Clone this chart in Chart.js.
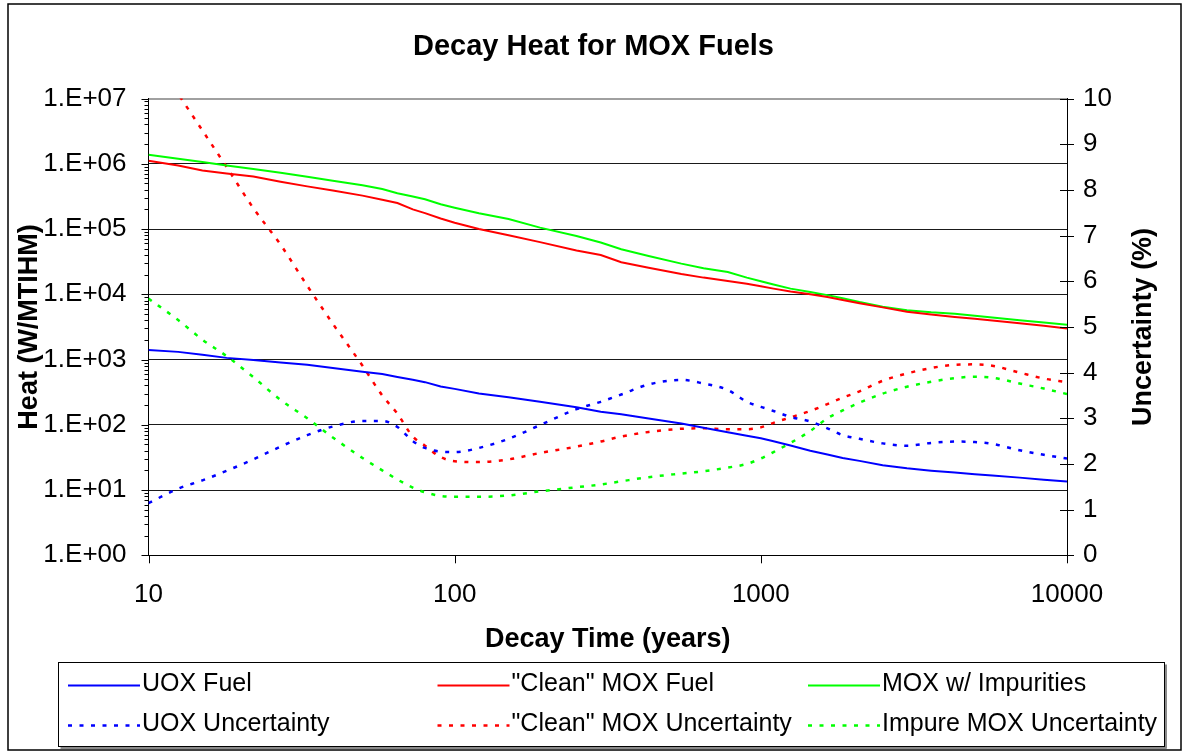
<!DOCTYPE html>
<html>
<head>
<meta charset="utf-8">
<script src="https://cdn.jsdelivr.net/npm/chart.js@4.4.1/dist/chart.umd.min.js"></script>
<style>
html,body{margin:0;padding:0;background:#fff;}
canvas{display:block;}
</style>
</head>
<body>
<canvas id="c" width="1187" height="753"></canvas>
<script>
// ---- Data ----
const times = [10, 12.5, 15, 18, 22, 27, 33, 40, 50, 58, 65, 73, 80, 90, 100, 120, 150, 190, 250, 300, 350, 430, 550, 650, 780, 900, 1000, 1100, 1250, 1450, 1650, 1850, 2100, 2500, 3000, 3600, 4300, 5000, 5700, 7000, 8400, 10000];

const uoxFuel = [1400, 1310, 1180, 1060, 980, 900, 830, 740, 650, 600, 540, 490, 450, 385, 355, 302, 265, 225, 185, 158, 145, 125, 105, 90, 77, 68, 62, 56, 48, 40, 35, 31, 28, 24, 21.5, 19.8, 18.5, 17.5, 16.7, 15.5, 14.4, 13.5];

const cleanMoxFuel = [1.11e6, 9.4e5, 7.9e5, 7.1e5, 6.4e5, 5.3e5, 4.5e5, 3.9e5, 3.25e5, 2.8e5, 2.5e5, 2.0e5, 1.75e5, 1.45e5, 1.25e5, 1.0e5, 8.0e4, 6.3e4, 4.7e4, 4.0e4, 3.1e4, 2.55e4, 2.05e4, 1.8e4, 1.6e4, 1.45e4, 1.33e4, 1.22e4, 1.1e4, 1.0e4, 9.1e3, 8.2e3, 7.3e3, 6.3e3, 5.4e3, 4.9e3, 4.5e3, 4.2e3, 3.95e3, 3.6e3, 3.3e3, 3.0e3];

const impureMoxFuel = [1.37e6, 1.19e6, 1.06e6, 9.4e5, 8.3e5, 7.3e5, 6.3e5, 5.5e5, 4.7e5, 4.1e5, 3.53e5, 3.16e5, 2.85e5, 2.4e5, 2.12e5, 1.74e5, 1.42e5, 1.05e5, 7.8e4, 6.2e4, 4.9e4, 3.86e4, 2.95e4, 2.51e4, 2.2e4, 1.8e4, 1.58e4, 1.41e4, 1.22e4, 1.08e4, 9.7e3, 8.7e3, 7.6e3, 6.45e3, 5.7e3, 5.3e3, 5.05e3, 4.7e3, 4.4e3, 4.0e3, 3.7e3, 3.4e3];

const uoxUncertainty = [1.14, 1.46, 1.64, 1.85, 2.1, 2.38, 2.63, 2.82, 2.94, 2.94, 2.81, 2.5, 2.35, 2.27, 2.26, 2.35, 2.55, 2.85, 3.2, 3.36, 3.52, 3.74, 3.84, 3.76, 3.62, 3.36, 3.25, 3.16, 3.03, 2.93, 2.78, 2.63, 2.55, 2.45, 2.4, 2.46, 2.49, 2.48, 2.44, 2.3, 2.2, 2.12];

const cleanMoxUncertainty = [11.1, 10.1, 9.3, 8.5, 7.6, 6.8, 5.9, 5.07, 4.15, 3.5, 3.1, 2.6, 2.4, 2.15, 2.06, 2.04, 2.1, 2.24, 2.38, 2.49, 2.6, 2.7, 2.77, 2.78, 2.76, 2.76, 2.8, 2.9, 3.02, 3.16, 3.31, 3.45, 3.59, 3.82, 3.98, 4.1, 4.17, 4.18, 4.15, 4.0, 3.87, 3.79];

const impureMoxUncertainty = [5.62, 5.15, 4.72, 4.36, 3.9, 3.4, 3.0, 2.58, 2.13, 1.86, 1.66, 1.48, 1.38, 1.3, 1.28, 1.28, 1.31, 1.4, 1.49, 1.55, 1.62, 1.71, 1.79, 1.84, 1.92, 2.0, 2.12, 2.26, 2.46, 2.72, 3.0, 3.17, 3.34, 3.54, 3.69, 3.8, 3.88, 3.91, 3.89, 3.76, 3.65, 3.53];

const seriesLabels = ['UOX Fuel', '"Clean" MOX Fuel', 'MOX w/ Impurities', 'UOX Uncertainty', '"Clean" MOX Uncertainty', 'Impure MOX Uncertainty'];
const timeTicks = [10, 100, 1000, 10000];
const heatTicks = [1, 10, 100, 1e3, 1e4, 1e5, 1e6, 1e7];
const uncertaintyTicks = [0, 1, 2, 3, 4, 5, 6, 7, 8, 9, 10];

const chartTitle = 'Decay Heat for MOX Fuels';
const xTitle = 'Decay Time (years)';
const yLeftTitle = 'Heat (W/MTIHM)';
const yRightTitle = 'Uncertainty (%)';

// ---- Chart ----
const FONT = "'Liberation Sans', Arial, sans-serif";
Chart.defaults.font.family = FONT;
Chart.defaults.color = '#000';

function pts(arr) { return times.map((t, i) => ({x: t, y: arr[i]})); }

const BLUE = '#0000ff', RED = '#ff0000', GREEN = '#00ff00';
const DOT = [4, 7.5];

const datasets = [
  {label: seriesLabels[0], data: pts(uoxFuel), borderColor: BLUE, yAxisID: 'yHeat', borderWidth: 2},
  {label: seriesLabels[1], data: pts(cleanMoxFuel), borderColor: RED, yAxisID: 'yHeat', borderWidth: 2},
  {label: seriesLabels[2], data: pts(impureMoxFuel), borderColor: GREEN, yAxisID: 'yHeat', borderWidth: 2},
  {label: seriesLabels[3], data: pts(uoxUncertainty), borderColor: BLUE, yAxisID: 'yUnc', borderWidth: 2.5, borderDash: DOT, cubicInterpolationMode: 'monotone'},
  {label: seriesLabels[4], data: pts(cleanMoxUncertainty), borderColor: RED, yAxisID: 'yUnc', borderWidth: 2.5, borderDash: DOT, cubicInterpolationMode: 'monotone'},
  {label: seriesLabels[5], data: pts(impureMoxUncertainty), borderColor: GREEN, yAxisID: 'yUnc', borderWidth: 2.5, borderDash: DOT, cubicInterpolationMode: 'monotone'}
];
datasets.forEach(d => { d.backgroundColor = d.borderColor; d.fill = false; d.pointRadius = 0; });

function line(ctx, x1, y1, x2, y2) { ctx.beginPath(); ctx.moveTo(x1, y1); ctx.lineTo(x2, y2); ctx.stroke(); }

const decor = {
  id: 'decor',
  beforeDraw(chart) {
    const ctx = chart.ctx;
    ctx.save();
    ctx.fillStyle = '#fff';
    ctx.fillRect(0, 0, chart.width, chart.height);
    ctx.restore();
  },
  afterDraw(chart) {
    const ctx = chart.ctx;
    const {left, right, top, bottom} = chart.chartArea;
    const yH = chart.scales.yHeat, yU = chart.scales.yUnc, xs = chart.scales.x;
    ctx.save();
    ctx.strokeStyle = '#000';
    ctx.lineWidth = 1;
    // left axis major + minor ticks
    heatTicks.forEach((v, i) => {
      const p = Math.round(yH.getPixelForValue(v)) + 0.5;
      line(ctx, left - 7, p, left, p);
      if (i < heatTicks.length - 1) {
        for (let k = 2; k <= 9; k++) {
          const q = Math.round(yH.getPixelForValue(v * k)) + 0.5;
          line(ctx, left - 4, q, left, q);
        }
      }
    });
    // right axis crossing ticks
    uncertaintyTicks.forEach(v => {
      const p = Math.round(yU.getPixelForValue(v)) + 0.5;
      line(ctx, right - 7, p, right + 7, p);
    });
    // x axis ticks
    timeTicks.forEach(v => {
      const p = Math.round(xs.getPixelForValue(v)) + 0.5;
      line(ctx, p, bottom, p, bottom + 8);
    });
    // right axis title (reads bottom to top)
    ctx.fillStyle = '#000';
    ctx.font = 'bold 27px ' + FONT;
    ctx.textAlign = 'center';
    ctx.textBaseline = 'middle';
    ctx.translate(1144, (top + bottom) / 2);
    ctx.rotate(-Math.PI / 2);
    ctx.fillText(yRightTitle, 0, 0);
    ctx.setTransform(1, 0, 0, 1, 0, 0);
    // legend
    const lx = 58.5, ly = 662.5, lw = 1106, lh = 84;
    ctx.fillStyle = '#8a8a8a';
    ctx.fillRect(lx + 2, ly + lh, lw, 2.5);
    ctx.fillRect(lx + lw, ly + 2, 2.5, lh);
    ctx.fillStyle = '#fff';
    ctx.fillRect(lx, ly, lw, lh);
    ctx.strokeStyle = '#000';
    ctx.lineWidth = 1;
    ctx.strokeRect(lx, ly, lw, lh);
    const colX = [68, 437.5, 808];
    const rowBase = [691, 731];
    ctx.font = '25px ' + FONT;
    ctx.textAlign = 'left';
    ctx.textBaseline = 'alphabetic';
    chart.data.datasets.forEach((d, i) => {
      const c = i % 3, r = Math.floor(i / 3);
      const x0 = colX[c], yb = rowBase[r];
      ctx.save();
      ctx.strokeStyle = d.borderColor;
      ctx.lineWidth = d.borderDash ? 2.5 : 2;
      ctx.setLineDash(d.borderDash || []);
      line(ctx, x0, yb - 5.5, x0 + 72, yb - 5.5);
      ctx.restore();
      ctx.fillStyle = '#000';
      ctx.fillText(d.label, x0 + 74, yb);
    });
    // outer frame
    ctx.strokeStyle = '#000';
    ctx.lineWidth = 1.5;
    ctx.strokeRect(8, 4, 1173, 746);
    ctx.restore();
  }
};

new Chart(document.getElementById('c'), {
  type: 'line',
  data: {datasets},
  plugins: [decor],
  options: {
    responsive: false,
    animation: false,
    devicePixelRatio: 1,
    layout: {padding: {left: 10, right: 10, top: 10, bottom: 93}},
    plugins: {
      legend: {display: false},
      tooltip: {enabled: false},
      title: {
        display: true,
        text: chartTitle,
        color: '#000',
        font: {size: 29, weight: 'bold'},
        padding: {top: 19.6, bottom: 34.1}
      }
    },
    scales: {
      x: {
        type: 'logarithmic',
        position: 'bottom',
        min: 10, max: 10000,
        afterBuildTicks: s => { s.ticks = timeTicks.map(v => ({value: v})); },
        afterFit: s => { s.height = 104.7; },
        grid: {display: false, drawTicks: false},
        border: {display: true, color: '#000', width: 1},
        ticks: {padding: 24, font: {size: 26}, maxRotation: 0, autoSkip: false, callback: v => String(v)},
        title: {display: true, text: xTitle, font: {size: 27, weight: 'bold'}, padding: {top: 0, bottom: 3.8}}
      },
      yHeat: {
        type: 'logarithmic',
        position: 'left',
        min: 1, max: 1e7,
        afterBuildTicks: s => { s.ticks = heatTicks.map(v => ({value: v})); },
        afterFit: s => { s.width = 138.5; },
        grid: {
          drawTicks: false,
          color: c => (c.tick && c.tick.value === 1e7) ? '#a0a0a0' : '#1a1a1a',
          lineWidth: c => (c.tick && c.tick.value === 1e7) ? 2 : 1
        },
        border: {display: true, color: '#000', width: 1},
        ticks: {padding: 22, font: {size: 26}, autoSkip: false,
          callback: v => '1.E+' + String(Math.round(Math.log10(v))).padStart(2, '0')},
        title: {display: true, text: yLeftTitle, font: {size: 27, weight: 'bold'}, padding: {top: 3.3, bottom: 0}}
      },
      yUnc: {
        type: 'linear',
        position: 'right',
        min: 0, max: 10,
        afterBuildTicks: s => { s.ticks = uncertaintyTicks.map(v => ({value: v})); },
        afterFit: s => { s.width = 110; },
        grid: {display: false, drawTicks: false},
        border: {display: true, color: '#000', width: 1},
        ticks: {padding: 16, font: {size: 26}, autoSkip: false, callback: v => String(v)},
        title: {display: false}
      }
    }
  }
});
</script>
</body>
</html>
